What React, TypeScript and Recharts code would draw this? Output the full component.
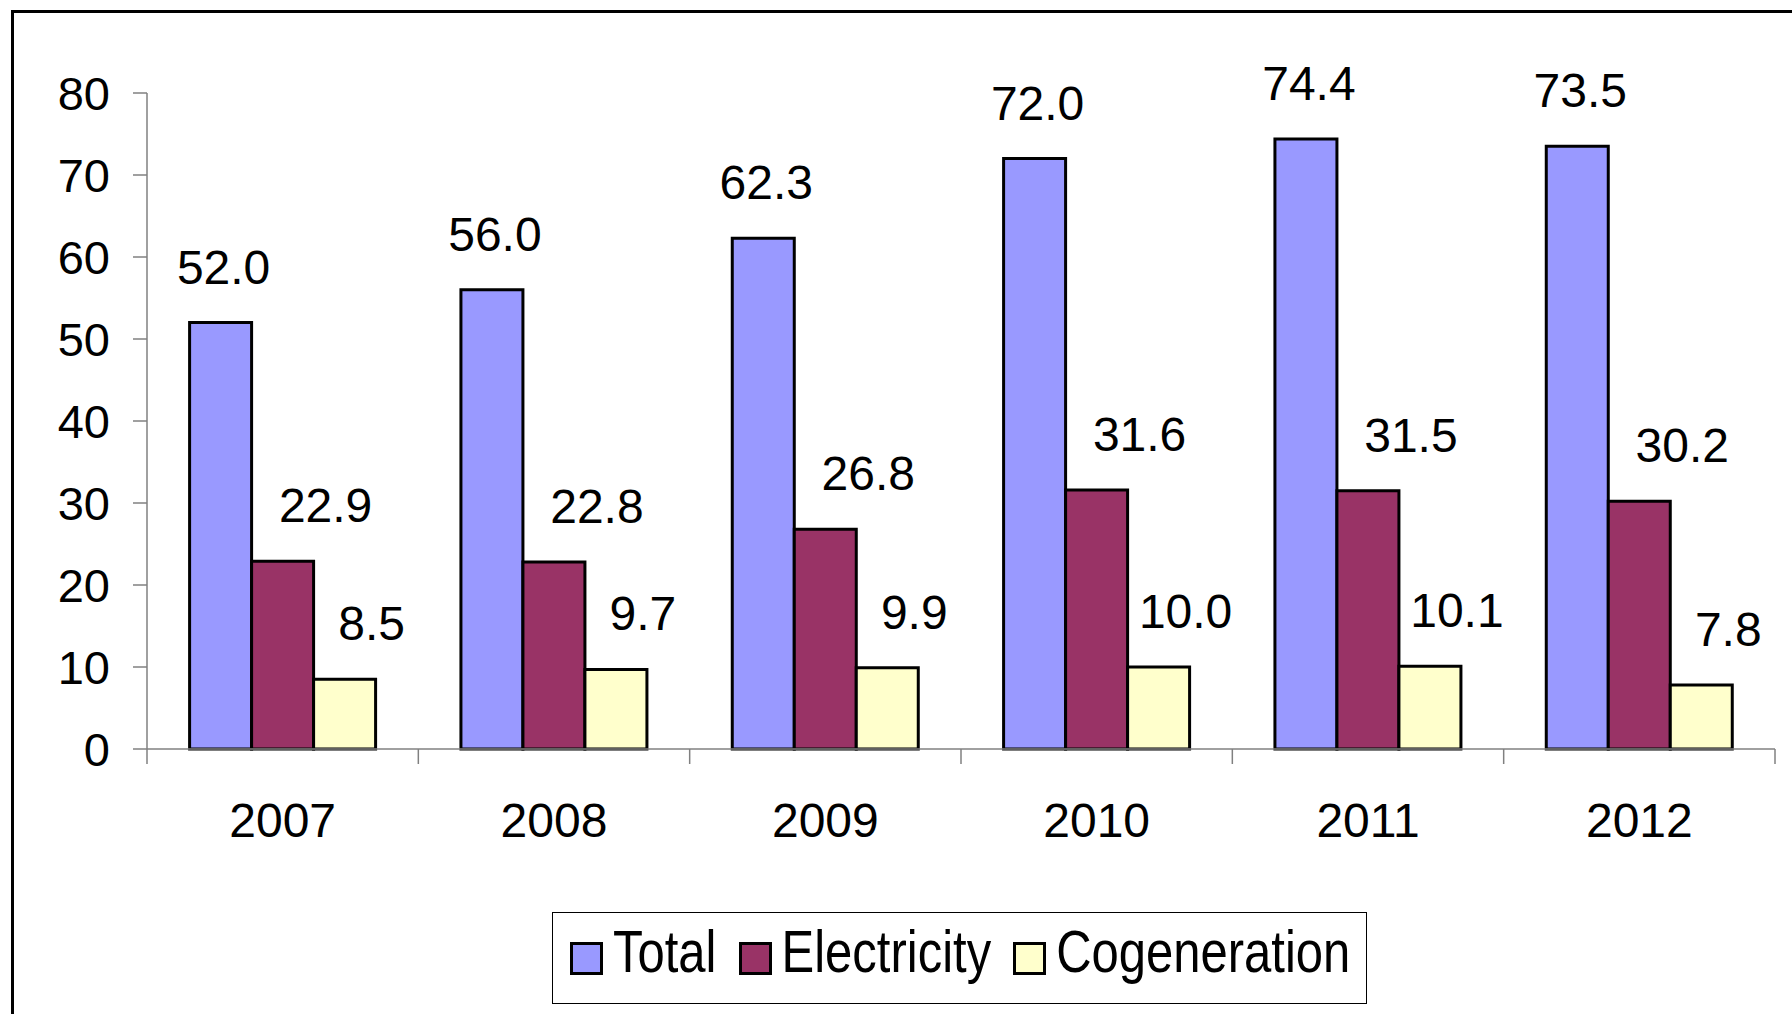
import { Bar, BarChart, XAxis, YAxis } from "recharts";

const YEARS = ["2007", "2008", "2009", "2010", "2011", "2012"];
const TOTAL = [52.0, 56.0, 62.3, 72.0, 74.4, 73.5];
const ELECTRICITY = [22.9, 22.8, 26.8, 31.6, 31.5, 30.2];
const COGENERATION = [8.5, 9.7, 9.9, 10.0, 10.1, 7.8];
const Y_TICKS = [0, 10, 20, 30, 40, 50, 60, 70, 80];

const SERIES = [
  { key: "total", name: "Total", color: "#9999FF", labelDx: 3 },
  { key: "electricity", name: "Electricity", color: "#993366", labelDx: 43 },
  { key: "cogeneration", name: "Cogeneration", color: "#FFFFCC", labelDx: 27 }
];

const FONT = '"Liberation Sans", Arial, sans-serif';
const AXIS_GREY = "#808080";

const data = YEARS.map((year, i) => ({
  year,
  total: TOTAL[i],
  electricity: ELECTRICITY[i],
  cogeneration: COGENERATION[i]
}));

function makeLabel(dx: number) {
  return (props: any) => {
    const { x, y, width, value } = props;
    return (
      <text
        x={Number(x) + Number(width) / 2 + dx}
        y={Number(y) - 39}
        textAnchor="middle"
        fontSize={48}
        fontFamily={FONT}
        fill="#000"
      >
        {Number(value).toFixed(1)}
      </text>
    );
  };
}

// category labels plus Excel-style tick marks between the categories
function YearTick(props: any) {
  const { x, y, payload, index, visibleTicksCount } = props;
  const axisY = y - 15;
  const half = payload.offset ?? 135.67;
  return (
    <g>
      <line x1={x - half} x2={x - half} y1={axisY} y2={axisY + 15} stroke={AXIS_GREY} strokeWidth={1.5} />
      {index === visibleTicksCount - 1 && (
        <line x1={x + half} x2={x + half} y1={axisY} y2={axisY + 15} stroke={AXIS_GREY} strokeWidth={1.5} />
      )}
      <text x={x} y={axisY + 88} textAnchor="middle" fontSize={48} fontFamily={FONT} fill="#000">
        {payload.value}
      </text>
    </g>
  );
}

function ChartLegend() {
  return (
    <div
      style={{
        position: "absolute",
        left: 552,
        top: 912,
        width: 815,
        height: 92,
        boxSizing: "border-box",
        border: "1.5px solid #000",
        display: "flex",
        alignItems: "center",
        paddingLeft: 17,
        fontFamily: FONT,
        fontSize: 49,
        color: "#000"
      }}
    >
      {SERIES.map((s) => (
        <div key={s.key} style={{ display: "flex", alignItems: "center", marginRight: 22 }}>
          <span
            style={{
              width: 33,
              height: 33,
              boxSizing: "border-box",
              border: "3.5px solid #000",
              background: s.color,
              marginRight: 10,
              display: "inline-block"
            }}
          />
          {/* the source legend text is tall and narrow */}
          <span
            style={{
              display: "inline-block",
              lineHeight: 1,
              transform: "scaleY(1.2)",
              transformOrigin: "center 55%",
              marginTop: -12
            }}
          >
            {s.name}
          </span>
        </div>
      ))}
    </div>
  );
}

export default function App() {
  return (
    <div
      style={{
        position: "fixed",
        left: 0,
        top: 0,
        width: 1792,
        height: 1014,
        background: "#fff",
        overflow: "hidden"
      }}
    >
      <div
        style={{
          position: "absolute",
          left: 11,
          top: 10,
          width: 1900,
          height: 1100,
          borderLeft: "3.5px solid #000",
          borderTop: "3.5px solid #000"
        }}
      />
      <div style={{ position: "absolute", left: 0, top: 0 }}>
        <BarChart
          width={1792}
          height={1014}
          data={data}
          margin={{ top: 93, right: 17, bottom: 165, left: 0 }}
          barCategoryGap="15.7%"
          barGap={0}
        >
          <XAxis
            dataKey="year"
            height={100}
            tickLine={false}
            tickSize={15}
            tickMargin={0}
            interval={0}
            axisLine={{ stroke: AXIS_GREY, strokeWidth: 1.5 }}
            tick={<YearTick />}
          />
          <YAxis
            width={147}
            domain={[0, 80]}
            ticks={Y_TICKS}
            interval={0}
            tickSize={14}
            tickMargin={23}
            axisLine={{ stroke: AXIS_GREY, strokeWidth: 1.5 }}
            tickLine={{ stroke: AXIS_GREY, strokeWidth: 1.5 }}
            tick={{ fill: "#000", fontSize: 47, fontFamily: FONT }}
          />
          {SERIES.map((s) => (
            <Bar
              key={s.key}
              dataKey={s.key}
              name={s.name}
              fill={s.color}
              stroke="#000"
              strokeWidth={3}
              isAnimationActive={false}
              label={makeLabel(s.labelDx)}
            />
          ))}
        </BarChart>
      </div>
      <ChartLegend />
    </div>
  );
}
